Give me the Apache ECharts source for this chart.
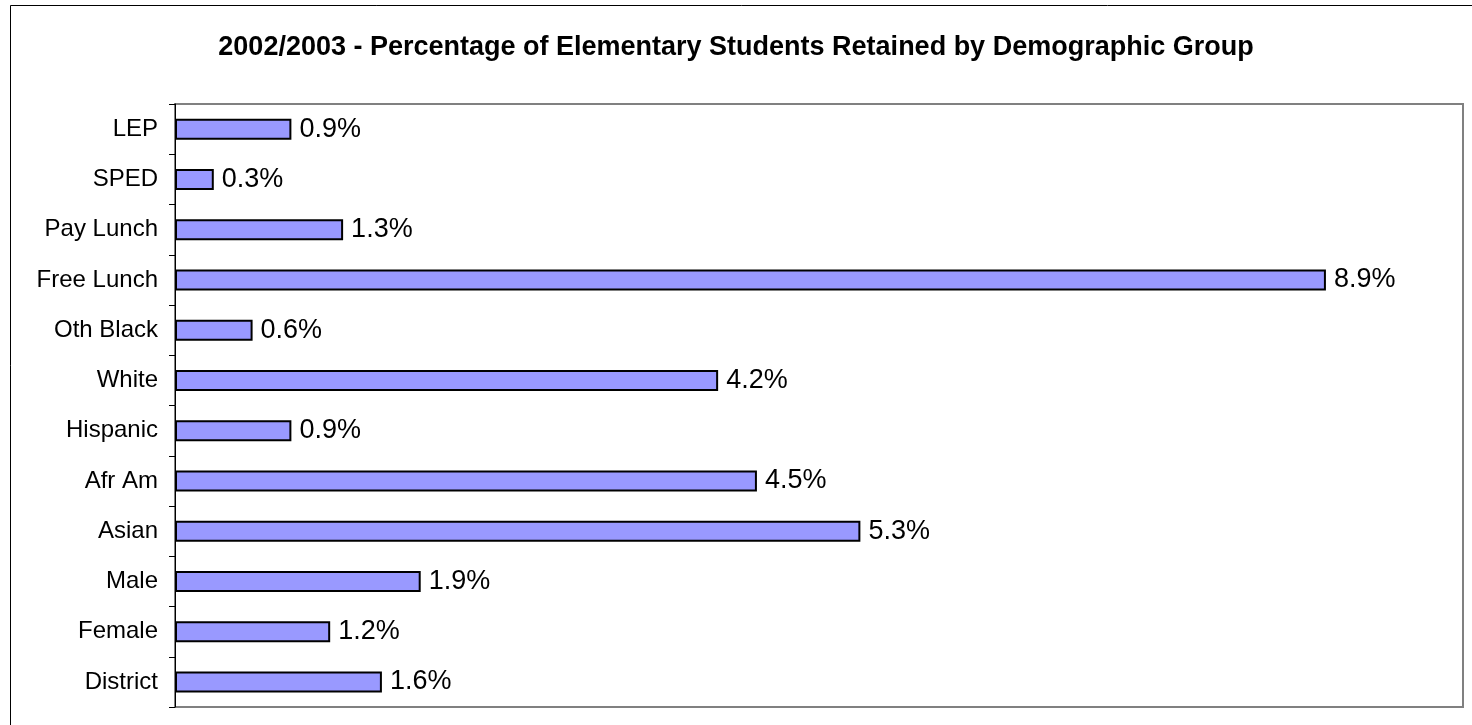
<!DOCTYPE html>
<html>
<head>
<meta charset="utf-8">
<script src="https://cdn.jsdelivr.net/npm/echarts@6/dist/echarts.min.js"></script>
<style>
	html, body { margin: 0; padding: 0; background: #fff; }
	#chart { width: 1472px; height: 725px; }
</style>
</head>
<body>
<div id="chart"></div>
<script>
// categories from top to bottom
var groups = ['LEP', 'SPED', 'Pay Lunch', 'Free Lunch', 'Oth Black', 'White', 'Hispanic', 'Afr Am', 'Asian', 'Male', 'Female', 'District'];
// percent retained
var retained = [0.9, 0.3, 1.3, 8.9, 0.6, 4.2, 0.9, 4.5, 5.3, 1.9, 1.2, 1.6];

var chart = echarts.init(document.getElementById('chart'));

var options = {
	animation: false,
	backgroundColor: '#fff',
	title: {
		text: '2002/2003 - Percentage of Elementary Students Retained by Demographic Group',
		left: 'center', top: 29,
		textStyle: { fontFamily: 'Liberation Sans', fontSize: 27, fontWeight: 'bold', color: '#000' }
	},
	graphic: [{
		type: 'rect',
		shape: { x: 10.5, y: 5.5, width: 1500, height: 800 },
		style: { fill: 'none', stroke: '#000', lineWidth: 1 },
		z: -1
	}],
	grid: {
		show: true,
		left: 175, top: 104, right: 9, bottom: 18,
		borderColor: '#808080', borderWidth: 2,
		backgroundColor: '#fff'
	},
	xAxis: {
		type: 'value',
		min: 0, max: 9.96,
		show: false,
		splitLine: { show: false }
	},
	yAxis: {
		type: 'category',
		inverse: true,
		data: groups,
		axisLine: { show: true, lineStyle: { color: '#000', width: 1 } },
		axisTick: { show: true, inside: false, length: 6, lineStyle: { color: '#000' } },
		axisLabel: { fontFamily: 'Liberation Sans', fontSize: 24, color: '#000', margin: 17 },
		splitLine: { show: false }
	},
	series: [{
		type: 'bar',
		data: retained,
		barWidth: 21,
		itemStyle: { color: '#9999ff', borderColor: '#000', borderWidth: 2 },
		label: {
			show: true,
			position: 'right',
			distance: 8,
			formatter: '{c}%',
			fontFamily: 'Liberation Sans', fontSize: 27, color: '#000'
		}
	}]
};

chart.setOption(options);
</script>
</body>
</html>
